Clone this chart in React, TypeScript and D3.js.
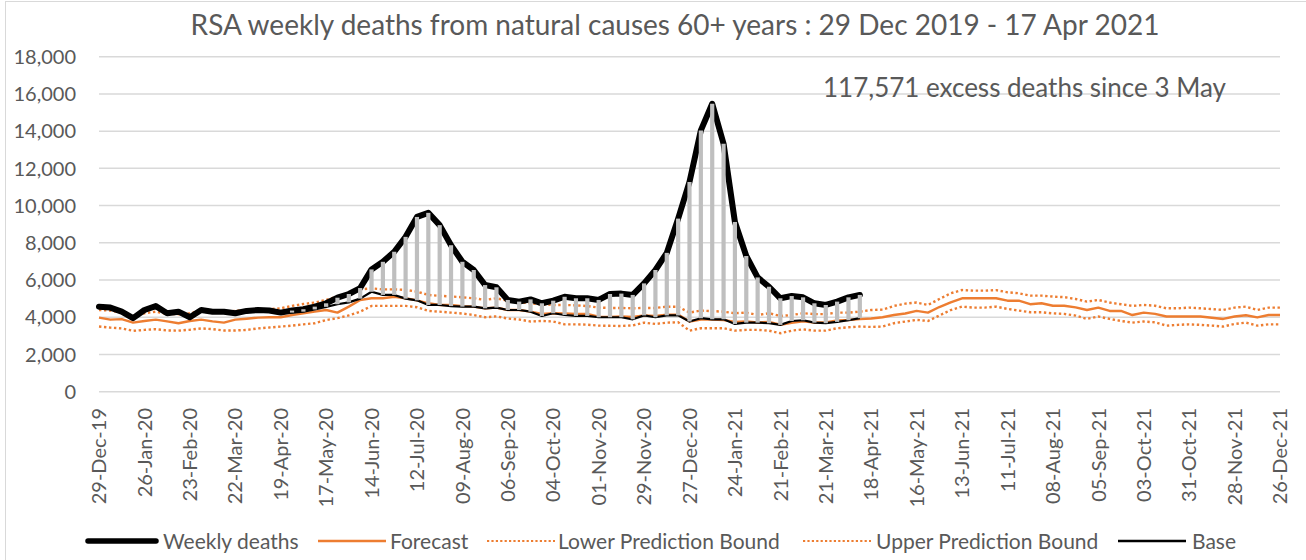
import React from "react";
import * as d3 from "d3";

const startDate = new Date(2019, 11, 29);
const weekCount = 105;

const tickLabels = [
  "29-Dec-19", "26-Jan-20", "23-Feb-20", "22-Mar-20", "19-Apr-20", "17-May-20", "14-Jun-20",
  "12-Jul-20", "09-Aug-20", "06-Sep-20", "04-Oct-20", "01-Nov-20", "29-Nov-20", "27-Dec-20",
  "24-Jan-21", "21-Feb-21", "21-Mar-21", "18-Apr-21", "16-May-21", "13-Jun-21", "11-Jul-21",
  "08-Aug-21", "05-Sep-21", "03-Oct-21", "31-Oct-21", "28-Nov-21", "26-Dec-21",
];

const yTicks = [0, 2000, 4000, 6000, 8000, 10000, 12000, 14000, 16000, 18000];

const weeklyDeaths = [
  4570, 4520, 4300, 3950, 4390, 4600, 4215, 4300, 4000, 4390,
  4300, 4300, 4215, 4340, 4390, 4360, 4250, 4360, 4430, 4570,
  4750, 5050, 5250, 5570, 6570, 6980, 7520, 8320, 9390, 9610,
  8950, 7870, 6980, 6540, 5730, 5610, 4930, 4840, 4960, 4750,
  4890, 5100, 5020, 5020, 4930, 5250, 5270, 5200, 5820, 6540,
  7460, 9300, 11270, 14040, 15470, 13320, 9120, 7290, 6140, 5640,
  5020, 5140, 5070, 4750, 4660, 4840, 5070, 5200,
];

const base = [
  4570, 4520, 4300, 3950, 4390, 4600, 4215, 4300, 4000, 4390,
  4300, 4300, 4215, 4340, 4390, 4360, 4250, 4250, 4300, 4420,
  4560, 4700, 4800, 5000, 5370, 5200, 5200, 5000, 4910, 4660,
  4660, 4600, 4570, 4570, 4480, 4520, 4390, 4390, 4300, 4070,
  4215, 4120, 4070, 4070, 4000, 4000, 4000, 3890, 4100, 4000,
  4100, 4100, 3770, 3950, 3890, 3890, 3640, 3710, 3710, 3680,
  3590, 3800, 3840, 3710, 3680, 3750, 3840, 3950,
];

const forecast = [
  3980, 3870, 3900, 3710, 3800, 3870, 3780, 3680, 3800, 3870,
  3780, 3710, 3870, 3920, 3980, 4000, 4000, 4120, 4210, 4300,
  4390, 4250, 4570, 4930, 5020, 5020, 5100, 5020, 4910, 4750,
  4660, 4660, 4600, 4570, 4480, 4520, 4390, 4390, 4300, 4180,
  4215, 4200, 4180, 4180, 4030, 4020, 4040, 4020, 4100, 4070,
  4140, 4140, 3770, 3880, 3870, 3850, 3750, 3780, 3720, 3750,
  3600, 3700, 3780, 3720, 3720, 3830, 3850, 3900, 3930, 4000,
  4120, 4200, 4340, 4250, 4550, 4800, 5020, 5020, 5020, 5020,
  4890, 4890, 4700, 4750, 4620, 4620, 4530, 4390, 4520, 4340,
  4340, 4120, 4250, 4180, 4040, 4040, 4040, 4040, 3970, 3910,
  4040, 4110, 3990, 4120, 4120,
];

const upperBound = [
  4390, 4360, 4250, 4070, 4215, 4300, 4180, 4160, 4215, 4340,
  4360, 4300, 4340, 4390, 4430, 4430, 4480, 4610, 4710, 4790,
  4930, 5110, 5300, 5500, 5550, 5500, 5500, 5470, 5380, 5200,
  5150, 5120, 5070, 5020, 4930, 5020, 4880, 4800, 4750, 4700,
  4660, 4660, 4640, 4600, 4520, 4500, 4500, 4480, 4500, 4500,
  4570, 4560, 4250, 4360, 4330, 4300, 4215, 4250, 4120, 4215,
  4070, 4120, 4215, 4170, 4170, 4250, 4250, 4300, 4390, 4410,
  4610, 4730, 4790, 4660, 4980, 5290, 5460, 5430, 5430, 5460,
  5340, 5290, 5160, 5160, 5110, 5080, 4980, 4840, 4930, 4790,
  4700, 4610, 4660, 4620, 4480, 4480, 4520, 4480, 4440, 4390,
  4520, 4570, 4390, 4520, 4520,
];

const lowerBound = [
  3500, 3440, 3400, 3270, 3320, 3360, 3290, 3280, 3330, 3400,
  3360, 3290, 3290, 3320, 3400, 3450, 3500, 3550, 3620, 3680,
  3850, 3950, 4100, 4300, 4610, 4610, 4610, 4610, 4540, 4340,
  4300, 4250, 4200, 4120, 4000, 4050, 3930, 3880, 3770, 3800,
  3770, 3620, 3620, 3600, 3550, 3540, 3530, 3560, 3710, 3640,
  3710, 3730, 3280, 3410, 3410, 3410, 3280, 3320, 3320, 3280,
  3140, 3280, 3350, 3280, 3280, 3410, 3460, 3500, 3480, 3500,
  3680, 3770, 3860, 3800, 4090, 4390, 4570, 4520, 4520, 4570,
  4450, 4360, 4270, 4270, 4210, 4180, 4090, 3910, 4040, 3910,
  3800, 3710, 3770, 3730, 3550, 3590, 3620, 3590, 3550, 3500,
  3640, 3710, 3550, 3620, 3620,
];

const title = "RSA weekly deaths from natural causes 60+ years : 29 Dec 2019 - 17 Apr 2021";
const annotation = "117,571 excess deaths since 3 May";

const FONT = "Lato, 'DejaVu Sans', sans-serif";
const TEXT = "#595959";
const ORANGE = "#ED7D31";
const GRID = "#D9D9D9";

export default function App() {
  const W = 1306;
  const H = 560;
  const weeks = d3.range(weekCount).map((i) => d3.timeWeek.offset(startDate, i));
  const x = d3
    .scalePoint<number>()
    .domain(d3.range(weekCount))
    .range([99, 1280]);
  const y = d3.scaleLinear().domain([0, 18000]).range([391.7, 56.7]);

  const line = d3
    .line<number>()
    .x((_, i) => x(i) as number)
    .y((d) => y(d));

  const dotted = { strokeDasharray: "2.4 2.6", strokeWidth: 2.4 };

  const legendItems = [
    { label: "Weekly deaths", lx: 88, tx: 163, stroke: "#000", width: 5.5, dash: undefined, cap: "round" },
    { label: "Forecast", lx: 318, tx: 390, stroke: ORANGE, width: 2.4, dash: undefined, cap: "butt" },
    { label: "Lower Prediction Bound", lx: 487, tx: 558, stroke: ORANGE, width: 2.2, dash: "2.2 2.2", cap: "butt" },
    { label: "Upper Prediction Bound", lx: 803, tx: 876, stroke: ORANGE, width: 2.2, dash: "2.2 2.2", cap: "butt" },
    { label: "Base", lx: 1118, tx: 1192, stroke: "#000", width: 2.4, dash: undefined, cap: "butt" },
  ];

  return (
    <svg
      width={W}
      height={H}
      style={{ position: "absolute", left: 0, top: 0, background: "#fff" }}
      fontFamily={FONT}
    >
      <rect x={5.5} y={1.5} width={1340} height={600} fill="#fff" stroke={GRID} strokeWidth={1} />

      <text x={675} y={35} textAnchor="middle" fontSize={28} fill={TEXT}>
        {title}
      </text>

      {yTicks.map((t) => (
        <g key={t}>
          <line x1={99} x2={1280} y1={y(t)} y2={y(t)} stroke={GRID} strokeWidth={1.5} />
          <text x={76} y={y(t)} dy="0.36em" textAnchor="end" fontSize={20} fill={TEXT}>
            {d3.format(",")(t)}
          </text>
        </g>
      ))}

      {tickLabels.map((lab, k) => {
        const xi = x(k * 4) as number;
        return (
          <text
            key={lab}
            transform={`translate(${xi},408) rotate(-90)`}
            textAnchor="end"
            dy="0.36em"
            fontSize={20}
            fill={TEXT}
          >
            {lab}
          </text>
        );
      })}

      <path d={line(lowerBound) || ""} fill="none" stroke={ORANGE} {...dotted} />
      <path d={line(upperBound) || ""} fill="none" stroke={ORANGE} {...dotted} />
      <path d={line(forecast) || ""} fill="none" stroke={ORANGE} strokeWidth={2.4} strokeLinejoin="round" />
      <path d={line(weeklyDeaths) || ""} fill="none" stroke="#000" strokeWidth={6} strokeLinejoin="round" strokeLinecap="round" />
      <path d={line(base) || ""} fill="none" stroke="#000" strokeWidth={2.2} strokeLinejoin="round" />

      {weeklyDeaths.map((v, i) =>
        Math.abs(v - base[i]) > 1 ? (
          <line
            key={weeks[i].getTime()}
            x1={x(i)}
            x2={x(i)}
            y1={y(v)}
            y2={y(base[i])}
            stroke="#BFBFBF"
            strokeWidth={4.2}
          />
        ) : null
      )}

      <text x={823} y={96.5} fontSize={26} fill={TEXT}>
        {annotation}
      </text>

      {legendItems.map((it) => (
        <g key={it.label}>
          <line
            x1={it.lx}
            x2={it.lx + 68}
            y1={541}
            y2={541}
            stroke={it.stroke}
            strokeWidth={it.width}
            strokeDasharray={it.dash}
            strokeLinecap={it.cap as any}
          />
          <text x={it.tx} y={541} dy="0.36em" fontSize={21} fill={TEXT}>
            {it.label}
          </text>
        </g>
      ))}
    </svg>
  );
}
